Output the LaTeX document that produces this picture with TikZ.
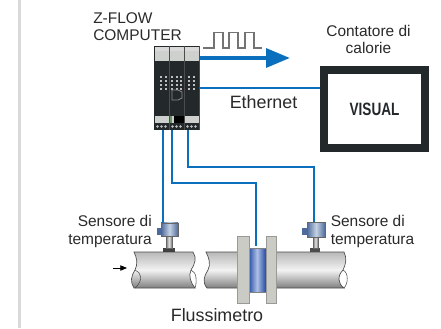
\documentclass[tikz,border=0pt]{standalone}
\usepackage{fontspec}
\setmainfont{Liberation Sans}
\usetikzlibrary{arrows.meta,calc}
\definecolor{wireblue}{HTML}{0A70BE}
\definecolor{devblack}{HTML}{23282B}
\definecolor{termgrey}{HTML}{CDD0CC}
\definecolor{txt}{HTML}{2A2A2A}
\definecolor{flange}{HTML}{CBCBC5}
\definecolor{headdark}{HTML}{4E6A9C}
\definecolor{headlight}{HTML}{C5D2E4}
\definecolor{meterblue}{HTML}{1F48A0}
\definecolor{meterlight}{HTML}{AEBFE6}
\tikzset{
  x=0.75pt,y=-0.75pt,
  lbl/.style={font=\fontsize{11.6pt}{13pt}\selectfont,text=txt,inner sep=0pt,align=center},
  biglbl/.style={font=\fontsize{13.4pt}{15pt}\selectfont,text=txt,inner sep=0pt},
  wire/.style={draw=wireblue,line width=1.5pt},
  pipe/.style={draw=black!70,line width=0.5pt,top color=black!28,bottom color=black!50,middle color=black!5},
  flangebox/.style={draw=black!40,line width=0.3pt,fill=flange},
  head/.style={draw=black!60,line width=0.3pt,left color=headdark,right color=headdark,middle color=headlight},
  neck/.style={draw=black!60,line width=0.3pt,left color=black!55,right color=black!55,middle color=black!10},
}
\begin{document}
\begin{tikzpicture}
\useasboundingbox (0,0) rectangle (441,328);
\fill[white] (0,0) rectangle (441,328);
\fill[black!15] (18,0) rectangle (20.5,328);

% pipes
\path[pipe] (134,252) -- (193,252) .. controls (197,258) and (195,264) .. (191,270)
   .. controls (188,276) and (191,283) .. (195,288) -- (134,288)
   .. controls (130,282) and (131,276) .. (135,270) .. controls (138,264) and (137,258) .. (134,252) -- cycle;
\draw[black!70,line width=0.4pt] (135,270) .. controls (141,272) and (144,280) .. (135,288);
\draw[black!70,line width=0.4pt] (191,270) .. controls (197,272) and (197,282) .. (195,288);
\path[pipe] (206,252) -- (238,252) -- (238,288) -- (207,288)
   .. controls (202,282) and (204,276) .. (208,270) .. controls (211,264) and (209,258) .. (206,252) -- cycle;
\path[pipe] (276,252) -- (344,252) .. controls (347,258) and (346,264) .. (343,270)
   .. controls (337,276) and (338,284) .. (344,288) -- (276,288) -- cycle;
\draw[black!70,line width=0.4pt] (343,270) .. controls (349,273) and (348,284) .. (344,288);

% flowmeter
\path[draw=black!50,line width=0.3pt,left color=meterblue,right color=meterblue,middle color=meterlight]
  (248,248) rectangle (266,292);
\node[flangebox,minimum width=9pt,minimum height=50pt,inner sep=0pt] (flangeL) at (243,269.5) {};
\node[flangebox,minimum width=7.5pt,minimum height=50pt,inner sep=0pt] (flangeR) at (271,269.5) {};
\coordinate (meter) at (256,246);

% sensors
\fill[black!75] (163,248) rectangle (175,252);
\fill[black!70] (310,248) rectangle (320,252);
\path[neck] (166,236) rectangle (172,248);
\path[neck] (313,236) rectangle (318,248);
\fill[headdark] (156.5,228) rectangle (162,235);
\fill[headdark] (302,228) rectangle (308,235);
\node[head,minimum width=12.75pt,minimum height=10pt,inner sep=0pt] (sensorL) at (169.5,229.5) {};
\node[head,minimum width=13.5pt,minimum height=11pt,inner sep=0pt] (sensorR) at (316,229.5) {};

% computer
\node[fill=devblack,minimum width=34.5pt,minimum height=63pt,inner sep=0pt] (computer) at (177,88) {};
\foreach \xa in {155,170,185}{
  \fill[termgrey] (\xa,47) rectangle ++(13.5,13.5);
  \fill[black!15] (\xa,47) rectangle ++(13.5,4);
  \fill[termgrey] (\xa,116) rectangle ++(13.5,7);
  \fill[black!70] (\xa+14,46) rectangle ++(1,84);
  \foreach \dx in {2.5,6.5,10.5}\fill[black!25] (\xa+\dx,126.5) circle (1.3);
}
\fill[black] (174,116) rectangle (184,123);
\fill[green!30!black!60] (170,116) rectangle (172,123);
\foreach \xb in {160,165,171,176,180,188,193}{
  \foreach \yb in {76,80,84,88}\fill[white!75!black] (\xb,\yb) rectangle ++(2,1.6);
}
\draw[black!45,line width=0.6pt] (178,90) -- (172,90) -- (172,100) -- (178,100) -- (182,98) -- (182,92) -- cycle;

% visual box
\node[draw=devblack,line width=6pt,fill=white,minimum width=76pt,minimum height=58.5pt,inner sep=0pt,
  font=\bfseries\fontsize{13.4pt}{15pt}\selectfont,text=devblack] (visual) at (374.5,109) {\scalebox{0.76}[1]{VISUAL}};

% connectors
\coordinate (wa) at (162.5,130);
\coordinate (wb) at (172,130);
\coordinate (wc) at (188,130);
\draw[wire] (wa) -- (wa |- sensorL.north);
\draw[wire] (wb) |- (200,183) -| (meter);
\draw[wire] (wc) |- (260,167) -| (sensorR.north -| 313.5,0);
\draw[draw=wireblue,line width=1.6pt] (computer.east |- 0,88) -- (visual.west |- 0,88);
\coordinate (bigtip) at (290,58);
\draw[draw=wireblue,line width=3.2pt,-{Triangle[length=18pt,width=14pt]}] (computer.east |- 0,58) -- (bigtip);

% pulse
\draw[black!55,line width=1pt] (203,48) -- (214,48) -- (214,32.5) -- (223,32.5) -- (223,48) -- (229,48) -- (229,32.5) -- (238,32.5) -- (238,48) -- (245,48) -- (245,32.5) -- (254,32.5) -- (254,48) -- (262,48);

% flow arrow
\coordinate (flowa) at (113,268);
\coordinate (flowb) at (127,268);
\draw[black,line width=0.6pt,-{Triangle[length=5pt,width=4pt]}] (flowa) -- (flowb);

% labels
\node[lbl,anchor=north west,align=left] (zflow) at (93,12) {\baselineskip=12.4pt Z-FLOW\\COMPUTER};
\node[lbl] (cont) at (368.5,39.5) {\baselineskip=12.8pt Contatore di\\calorie};
\node[biglbl,anchor=west] (eth) at (229.5,102) {Ethernet};
\node[lbl,align=right,anchor=east] (sl) at (152,231.5) {\baselineskip=13.5pt Sensore di\\temperatura};
\node[lbl,align=left,anchor=west] (sr) at (330.5,231.5) {\baselineskip=13.5pt Sensore di\\temperatura};
\node[biglbl] (flux) at (217,315.5) {Flussimetro};
\end{tikzpicture}
\end{document}
